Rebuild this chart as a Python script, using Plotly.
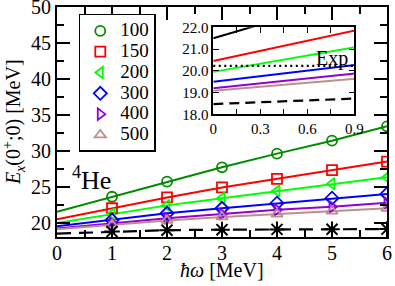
import plotly.graph_objects as go

# ---------------- data ----------------
hw_points = [1, 2, 3, 4, 5, 6]          # hbar*omega [MeV] where markers are
hw_zero = [0]                            # start of the fitted curves

series_names = ["100", "150", "200", "300", "400", "500"]

e100 = [23.6, 25.7, 27.7, 29.6, 31.4, 33.4]
e150 = [22.0, 23.5, 24.9, 26.1, 27.3, 28.5]
e200 = [21.2, 22.4, 23.4, 24.4, 25.4, 26.3]
e300 = [20.35, 21.3, 22.0, 22.7, 23.4, 24.0]
e400 = [19.95, 20.6, 21.2, 21.8, 22.2, 22.75]
e500 = [19.7, 20.3, 20.8, 21.2, 21.6, 22.0]

# value of each curve at hbar*omega = 0
e_at_zero = [21.5, 20.45, 19.95, 19.5, 19.2, 19.08]

# asterisk series (dashed curve)
e_star = [18.75, 18.95, 19.02, 19.06, 19.08, 19.1]
e_star_zero = 18.47

exp_value = 20.23   # experimental value (dotted line in the inset)

colors = ["#008B00", "#FF0000", "#00FF00", "#0000FF", "#9400D3", "#BC8F8F"]
inset_colors = ["#000000", "#FF0000", "#00FF00", "#0000FF", "#9400D3", "#BC8F8F"]
symbols = ["circle-open", "square-open", "triangle-left-open",
           "diamond-open", "triangle-right-open", "triangle-up-open"]

all_series = [e100, e150, e200, e300, e400, e500]

FONT = "Liberation Serif, Times New Roman, Times, serif"

fig = go.Figure()

# ---- main lines ----
for vals, v0, col in zip(all_series, e_at_zero, colors):
    fig.add_trace(go.Scatter(x=hw_zero + hw_points, y=[v0] + vals, mode="lines",
                             line=dict(color=col, width=2), showlegend=False,
                             hoverinfo="skip"))
fig.add_trace(go.Scatter(x=hw_zero + hw_points, y=[e_star_zero] + e_star, mode="lines",
                         line=dict(color="black", width=2.2, dash="14px,8px"),
                         showlegend=False))

# ---- main markers ----
for vals, name, col, sym in zip(all_series, series_names, colors, symbols):
    fig.add_trace(go.Scatter(x=hw_points, y=vals, mode="markers",
                             name="<span style='font-size:19px'>%s</span>" % name,
                             marker=dict(symbol=sym, size=10, color=col,
                                         line=dict(color=col, width=1.8))))
fig.add_trace(go.Scatter(x=hw_points, y=e_star, mode="markers", showlegend=False,
                         marker=dict(symbol="asterisk-open", size=13, color="black",
                                     line=dict(color="black", width=2))))

# ---- inset lines ----
for vals, v0, col in zip(all_series, e_at_zero, inset_colors):
    fig.add_trace(go.Scatter(x=hw_zero + hw_points, y=[v0] + vals, mode="lines",
                             xaxis="x2", yaxis="y2",
                             line=dict(color=col, width=2), showlegend=False))
fig.add_trace(go.Scatter(x=hw_zero + hw_points, y=[e_star_zero] + e_star, mode="lines",
                         xaxis="x2", yaxis="y2",
                         line=dict(color="black", width=2.2, dash="10px,6px"),
                         showlegend=False))

axis_common = dict(showline=True, linecolor="black", linewidth=2, mirror="allticks",
                   ticks="inside", tickcolor="black", tickwidth=1.5, showgrid=False,
                   zeroline=False, automargin=False, ticklabeloverflow="allow")

fig.update_layout(
    width=395, height=286,
    margin=dict(l=57, r=8, t=7, b=49, autoexpand=False),
    paper_bgcolor="white", plot_bgcolor="white",
    font=dict(family=FONT, color="black", size=20),
    xaxis=dict(range=[0, 6], dtick=1, tick0=0, ticklen=13, ticklabelstandoff=-3,
               minor=dict(dtick=0.5, ticklen=7, ticks="inside", tickcolor="black", tickwidth=1.5),
               tickfont=dict(size=20, family=FONT), **axis_common),
    yaxis=dict(range=[18, 50], dtick=5, tick0=0, ticklen=13,
               minor=dict(dtick=2.5, ticklen=7, ticks="inside", tickcolor="black", tickwidth=1.5),
               tickfont=dict(size=20, family=FONT), **axis_common),
    xaxis2=dict(domain=[0.4736, 0.901], anchor="y2", range=[0, 0.9], dtick=0.3, tick0=0,
                ticklen=6,
                minor=dict(dtick=0.15, ticklen=6, ticks="inside", tickcolor="black", tickwidth=1.2),
                tickfont=dict(size=15, family=FONT),
                **{**axis_common, "linewidth": 1.5, "tickwidth": 1.2}),
    yaxis2=dict(domain=[0.5335, 0.9117], anchor="x2", range=[18, 22], dtick=1, tick0=0,
                ticklen=6, tickformat=".1f",
                tickfont=dict(size=15, family=FONT),
                **{**axis_common, "linewidth": 1.5, "tickwidth": 1.2}),
    legend=dict(x=0.066, y=0.9696, xanchor="left", yanchor="top",
                bordercolor="black", borderwidth=1.5, bgcolor="white",
                font=dict(size=13.7, family=FONT), tracegroupgap=0),
    showlegend=True,
)

# experimental value: dotted line across the inset
fig.add_shape(type="line", xref="x2 domain", yref="y2", x0=0, x1=1,
              y0=exp_value, y1=exp_value,
              line=dict(color="black", width=2.2, dash="2px,3.5px"))

fig.add_annotation(text="Exp", xref="x2", yref="y2", x=0.875, y=exp_value + 0.32,
                   xanchor="right", yanchor="middle", showarrow=False,
                   font=dict(size=20, family=FONT))

fig.add_annotation(text="<sup>4</sup>He", xref="x", yref="y", x=0.24, y=26.2,
                   xanchor="left", yanchor="middle", showarrow=False,
                   font=dict(size=26, family=FONT))

# axis titles
fig.add_annotation(text="<i>ħω</i> [MeV]", xref="paper", yref="paper", x=0.5,
                   y=-0.142, xanchor="center", yanchor="middle", showarrow=False,
                   font=dict(size=20, family=FONT))
fig.add_annotation(text="<i>E</i><sub><i>x</i></sub>(0<sup>+</sup>;0) [MeV]",
                   xref="paper", yref="paper", x=-0.13, y=0.5, textangle=-90,
                   xanchor="center", yanchor="middle", showarrow=False,
                   font=dict(size=20, family=FONT))

fig.write_html("out.html", config={"displayModeBar": False},
               post_script="document.body.style.margin='0';document.body.style.padding='0';")
